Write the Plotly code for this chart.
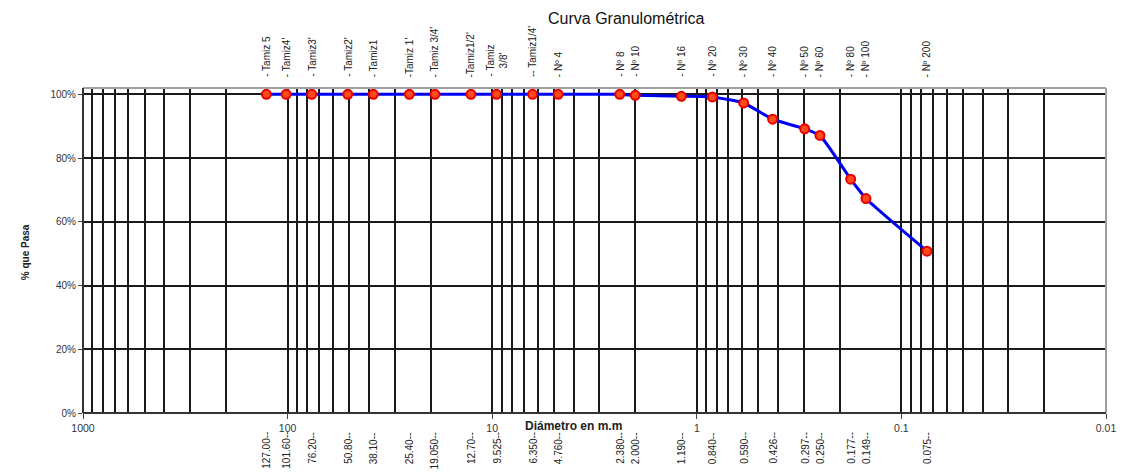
import math
import plotly.graph_objects as go

# Sieve openings (mm) and cumulative percentage passing
sizes_mm = [127.0, 101.6, 76.2, 50.8, 38.1, 25.4, 19.05, 12.7, 9.525, 6.35, 4.76,
            2.38, 2.0, 1.19, 0.84, 0.59, 0.426, 0.297, 0.25, 0.177, 0.149, 0.075]
pct_pass = [1.0, 1.0, 1.0, 1.0, 1.0, 1.0, 1.0, 1.0, 1.0, 1.0, 1.0,
            1.0, 0.997, 0.994, 0.992, 0.973, 0.922, 0.892, 0.871, 0.734, 0.673, 0.508]

# Sieve names written above the plot
sieve_names = ["- Tamiz 5", "- Tamiz4'", "- Tamiz3'", "- Tamiz2'", "- Tamiz1", "-Tamiz 1'",
               "- Tamiz 3/4'", "-Tamiz1/2'", "- Tamiz<br>3/8'", "-- Tamiz1/4'", "- Nº 4",
               "- Nº 8", "- Nº 10", "- Nº 16", "- Nº 20", "- Nº 30", "- Nº 40",
               "- Nº 50", "- Nº 60", "- Nº 80", "- Nº 100", "- Nº 200"]

# Opening labels written below the axis
size_labels = ["127.00--", "101.60--", "76.20--", "50.80--", "38.10--", "25.40--",
               "19.050--", "12.70--", "9.525--", "6.350--", "4.760--", "2.380--",
               "2.000--", "1.190--", "0.840--", "0.590--", "0.426--", "0.297--",
               "0.250--", "0.177--", "0.149--", "0.075--"]

x_tick_vals = [1000, 100, 10, 1, 0.1, 0.01]
x_tick_text = ["1000", "100", "10", "1", "0.1", "0.01"]
y_tick_vals = [0, 0.2, 0.4, 0.6, 0.8, 1.0]

FONT = "Liberation Sans, Arial, sans-serif"
GRID = "#1a1a1a"

W, H = 1128, 472
ML, MR, MT, MB = 83, 18, 88, 59
pw, ph = W - ML - MR, H - MT - MB


def px_to_paper_x(px):
    return (px - ML) / pw


def px_to_paper_y(py):
    return (H - MB - py) / ph


fig = go.Figure()
fig.add_trace(go.Scatter(
    x=sizes_mm, y=pct_pass, mode="lines+markers",
    line=dict(color="#0000f0", width=3, shape="spline", smoothing=0.5),
    marker=dict(size=9, color="#ff4a1a", line=dict(color="#e60000", width=2)),
    showlegend=False, cliponaxis=False,
))

annotations = []
for size, name in zip(sizes_mm, sieve_names):
    annotations.append(dict(
        x=math.log10(size), xref="x", y=px_to_paper_y(79), yref="paper",
        text=name, textangle=-90, showarrow=False,
        xanchor="center", yanchor="bottom",
        font=dict(family=FONT, size=10, color="#222"),
    ))
for size, lab in zip(sizes_mm, size_labels):
    annotations.append(dict(
        x=math.log10(size), xref="x", y=px_to_paper_y(430), yref="paper",
        text=lab, textangle=-90, showarrow=False,
        xanchor="center", yanchor="top",
        font=dict(family=FONT, size=10, color="#222"),
    ))

# Chart title and axis titles
annotations.append(dict(
    x=px_to_paper_x(629), xref="paper", y=px_to_paper_y(18), yref="paper",
    text="Curva Granulométrica", showarrow=False,
    xanchor="center", yanchor="middle",
    font=dict(family=FONT, size=16, color="#111"),
))
annotations.append(dict(
    x=px_to_paper_x(575), xref="paper", y=px_to_paper_y(426), yref="paper",
    text="<b>Diámetro en m.m</b>", showarrow=False,
    xanchor="center", yanchor="middle",
    font=dict(family=FONT, size=12, color="#222"),
))
annotations.append(dict(
    x=px_to_paper_x(25), xref="paper", y=px_to_paper_y(252), yref="paper",
    text="<b>% que Pasa</b>", textangle=-90, showarrow=False,
    xanchor="center", yanchor="middle",
    font=dict(family=FONT, size=10, color="#222"),
))

fig.update_layout(
    width=W, height=H,
    margin=dict(l=ML, r=MR, t=MT, b=MB),
    paper_bgcolor="white", plot_bgcolor="white",
    font=dict(family=FONT, size=10, color="#333"),
    annotations=annotations,
    shapes=[
        # light frame on top and right, dark edge on the left
        dict(type="line", xref="paper", yref="paper", x0=0, x1=1, y0=1, y1=1,
             line=dict(color="#a0a0a0", width=2)),
        dict(type="line", xref="paper", yref="paper", x0=1, x1=1, y0=0, y1=1,
             line=dict(color="#a0a0a0", width=2)),
        dict(type="line", xref="paper", yref="paper", x0=0, x1=0, y0=0, y1=1,
             line=dict(color="#333", width=2)),
        dict(type="line", xref="paper", yref="paper", x0=0, x1=1, y0=0, y1=0,
             line=dict(color="#333", width=2)),
    ],
)

fig.update_xaxes(
    type="log", range=[3, -2], autorange=False,
    tickmode="array", tickvals=x_tick_vals, ticktext=x_tick_text,
    ticks="outside", ticklen=5, tickcolor="#444",
    showgrid=True, gridcolor=GRID, gridwidth=1.8,
    minor=dict(dtick="D1", showgrid=True, gridcolor=GRID, gridwidth=1.8, ticks=""),
    showline=False, zeroline=False,
    tickfont=dict(family=FONT, size=10.5, color="#333"),
)
fig.update_yaxes(
    range=[0, 1.02], autorange=False,
    tickmode="array", tickvals=y_tick_vals, tickformat=".0%",
    ticks="outside", ticklen=4, tickcolor="#444",
    showgrid=True, gridcolor=GRID, gridwidth=1.8,
    showline=False, zeroline=False,
    tickfont=dict(family=FONT, size=10, color="#333"),
)

fig.write_html("out.html")
